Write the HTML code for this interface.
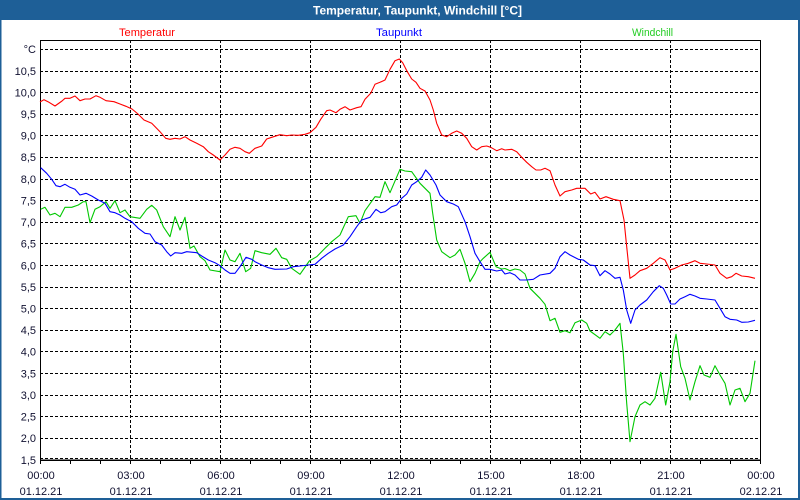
<!DOCTYPE html>
<html>
<head>
<meta charset="utf-8">
<style>
html,body{margin:0;padding:0;background:#fff;}
svg{display:block;}
text{font-family:"Liberation Sans",Arial,sans-serif;}
</style>
</head>
<body>
<svg width="800" height="500" viewBox="0 0 800 500" xmlns="http://www.w3.org/2000/svg">
<rect x="0" y="0" width="800" height="500" fill="#ffffff"/>
<!-- title bar -->
<rect x="0" y="0" width="800" height="20" fill="#1e5f97"/>
<rect x="0" y="0" width="1.5" height="500" fill="#1e5f97"/>
<rect x="798" y="0" width="2" height="500" fill="#1e5f97"/>
<rect x="0" y="498" width="800" height="2" fill="#1e5f97"/>
<text x="313" y="14.5" font-size="12" font-weight="bold" fill="#ffffff" textLength="209" lengthAdjust="spacingAndGlyphs">Temperatur, Taupunkt, Windchill [°C]</text>

<!-- legend -->
<text x="119" y="36" font-size="11" fill="#ff0000" textLength="56" lengthAdjust="spacingAndGlyphs">Temperatur</text>
<text x="376" y="36" font-size="11" fill="#0000ff" textLength="46" lengthAdjust="spacingAndGlyphs">Taupunkt</text>
<text x="632" y="36" font-size="11" fill="#22cc22" textLength="41" lengthAdjust="spacingAndGlyphs">Windchill</text>

<!-- grid -->
<g stroke="#000" stroke-width="1" stroke-dasharray="3 2" shape-rendering="crispEdges" fill="none">
<line x1="40" y1="49.5" x2="760" y2="49.5"/>
<line x1="40" y1="71.5" x2="760" y2="71.5"/>
<line x1="40" y1="92.5" x2="760" y2="92.5"/>
<line x1="40" y1="114.5" x2="760" y2="114.5"/>
<line x1="40" y1="135.5" x2="760" y2="135.5"/>
<line x1="40" y1="157.5" x2="760" y2="157.5"/>
<line x1="40" y1="179.5" x2="760" y2="179.5"/>
<line x1="40" y1="200.5" x2="760" y2="200.5"/>
<line x1="40" y1="222.5" x2="760" y2="222.5"/>
<line x1="40" y1="243.5" x2="760" y2="243.5"/>
<line x1="40" y1="265.5" x2="760" y2="265.5"/>
<line x1="40" y1="287.5" x2="760" y2="287.5"/>
<line x1="40" y1="308.5" x2="760" y2="308.5"/>
<line x1="40" y1="330.5" x2="760" y2="330.5"/>
<line x1="40" y1="351.5" x2="760" y2="351.5"/>
<line x1="40" y1="373.5" x2="760" y2="373.5"/>
<line x1="40" y1="395.5" x2="760" y2="395.5"/>
<line x1="40" y1="416.5" x2="760" y2="416.5"/>
<line x1="40" y1="438.5" x2="760" y2="438.5"/>
<line x1="40" y1="458.5" x2="760" y2="458.5"/>
<line x1="130.5" y1="40" x2="130.5" y2="460"/>
<line x1="220.5" y1="40" x2="220.5" y2="460"/>
<line x1="310.5" y1="40" x2="310.5" y2="460"/>
<line x1="400.5" y1="40" x2="400.5" y2="460"/>
<line x1="490.5" y1="40" x2="490.5" y2="460"/>
<line x1="580.5" y1="40" x2="580.5" y2="460"/>
<line x1="670.5" y1="40" x2="670.5" y2="460"/>
</g>

<!-- frame -->
<g stroke="#000" stroke-width="1" shape-rendering="crispEdges" fill="none">
<rect x="40.5" y="40.5" width="720" height="419.5"/>
<line x1="40" y1="460.5" x2="761" y2="460.5"/>
<line x1="40.5" y1="460" x2="40.5" y2="464"/>
<line x1="70.5" y1="460" x2="70.5" y2="464"/>
<line x1="100.5" y1="460" x2="100.5" y2="464"/>
<line x1="130.5" y1="460" x2="130.5" y2="464"/>
<line x1="160.5" y1="460" x2="160.5" y2="464"/>
<line x1="190.5" y1="460" x2="190.5" y2="464"/>
<line x1="220.5" y1="460" x2="220.5" y2="464"/>
<line x1="250.5" y1="460" x2="250.5" y2="464"/>
<line x1="280.5" y1="460" x2="280.5" y2="464"/>
<line x1="310.5" y1="460" x2="310.5" y2="464"/>
<line x1="340.5" y1="460" x2="340.5" y2="464"/>
<line x1="370.5" y1="460" x2="370.5" y2="464"/>
<line x1="400.5" y1="460" x2="400.5" y2="464"/>
<line x1="430.5" y1="460" x2="430.5" y2="464"/>
<line x1="460.5" y1="460" x2="460.5" y2="464"/>
<line x1="490.5" y1="460" x2="490.5" y2="464"/>
<line x1="520.5" y1="460" x2="520.5" y2="464"/>
<line x1="550.5" y1="460" x2="550.5" y2="464"/>
<line x1="580.5" y1="460" x2="580.5" y2="464"/>
<line x1="610.5" y1="460" x2="610.5" y2="464"/>
<line x1="640.5" y1="460" x2="640.5" y2="464"/>
<line x1="670.5" y1="460" x2="670.5" y2="464"/>
<line x1="700.5" y1="460" x2="700.5" y2="464"/>
<line x1="730.5" y1="460" x2="730.5" y2="464"/>
<line x1="760.5" y1="460" x2="760.5" y2="464"/>
</g>

<!-- y labels -->
<g font-size="11" fill="#101030" text-anchor="end">
<text x="36" y="53">°C</text>
<text x="36" y="75">10,5</text>
<text x="36" y="96.5">10,0</text>
<text x="36" y="118">9,5</text>
<text x="36" y="139.5">9,0</text>
<text x="36" y="161">8,5</text>
<text x="36" y="183">8,0</text>
<text x="36" y="204.5">7,5</text>
<text x="36" y="226">7,0</text>
<text x="36" y="247.5">6,5</text>
<text x="36" y="269.5">6,0</text>
<text x="36" y="291">5,5</text>
<text x="36" y="312.5">5,0</text>
<text x="36" y="334">4,5</text>
<text x="36" y="355.5">4,0</text>
<text x="36" y="377.5">3,5</text>
<text x="36" y="399">3,0</text>
<text x="36" y="420.5">2,5</text>
<text x="36" y="442">2,0</text>
<text x="36" y="464">1,5</text>
</g>

<!-- x labels -->
<g font-size="11" fill="#101030" text-anchor="middle">
<text x="41" y="479">00:00</text><text x="41" y="495">01.12.21</text>
<text x="131" y="479">03:00</text><text x="131" y="495">01.12.21</text>
<text x="221" y="479">06:00</text><text x="221" y="495">01.12.21</text>
<text x="311" y="479">09:00</text><text x="311" y="495">01.12.21</text>
<text x="401" y="479">12:00</text><text x="401" y="495">01.12.21</text>
<text x="491" y="479">15:00</text><text x="491" y="495">01.12.21</text>
<text x="581" y="479">18:00</text><text x="581" y="495">01.12.21</text>
<text x="671" y="479">21:00</text><text x="671" y="495">01.12.21</text>
<text x="761" y="479">00:00</text><text x="761" y="495">02.12.21</text>
</g>

<!-- series -->
<g fill="none" stroke-width="1.1" stroke-linejoin="round">
<polyline stroke="#00c800" points="40.7,209.3 45,207.3 50,215 55,213.3 60,216.7 65,207.3 71.7,207.3 78.3,205 83.3,201.7 86,201.7 90,222.7 95,209.3 100,206.7 106,201.7 110,208.3 115,200.7 120,212.7 125,210 130,216.7 140,218.3 146.7,209.3 151.7,205.3 156.7,210 163.3,226.7 170,236.7 175,216.7 180,230 185,217.3 190,248.3 194,246 200,256.7 205,260.7 210,270 220,271.7 225,250 230,260 235,261.7 240,253.3 245.7,271.7 250.7,268.3 255,250.7 261.7,252.7 270,254.3 276,248.3 281.7,257.7 286.7,259.3 291.7,268.3 300,274.3 309.3,261 316.7,256.7 325,248.3 331.7,241.7 340,235 348.3,216.7 356,215.7 360,223.3 365,210.7 375,196.7 380,197.3 385,181.7 390,192.7 400,169.3 405,171 411.7,171.7 420,183.3 430,193.3 432.7,213.3 436.7,240 441.7,251.7 450,257.7 455,255 460,249.3 465,263.3 470,281.7 475,273.3 480,261.7 483.3,258.3 490,252.3 496,266.7 501.7,269 505,268.5 510,270.7 515,269 520,270 525,274 530,288.3 535,293.3 540,298.3 545,304.3 550,320.7 555,318.3 560,332.3 565,330.7 570,332.7 575,322.7 581.7,320 586.7,323.3 590,331 600,338.3 605,331.7 610,335 615,330 620,323.3 623.3,353.3 626.7,403.3 630,441.7 635,416.7 640,405 645,401.7 650,405 655,398.3 660.7,372.3 665.7,405 670,381.7 672.7,351.7 676,334.3 680.7,366.7 685,378.3 690,400 695,381.7 700,365.7 704,375 710,377.3 715,365.7 720,375 725,383.3 730,405 735,390 740,388.3 745,401.7 750,393.3 755,360.7"/>
<polyline stroke="#0000ff" points="40.7,167.7 46.7,173.3 51.7,179.3 56,185.7 60,186.7 65,184.3 70,187.3 75,189.3 80,195 86,193.3 91.7,196 98.3,200 105,203.3 110,211.7 115,212.7 120,215 125,218.3 131.7,221.7 138.3,228.3 145,233.3 150,234 155,241.7 161.7,245 166.7,251.7 170.7,256 175,252.7 181.7,253.3 186.7,251.7 196.7,252.7 201.7,256 208.3,260 215,262.7 220,265.7 225,270 230,273.3 235,273.3 240,266.7 246,257.3 251.7,259.3 255,261.7 261.7,265 268.3,267.7 275,269.3 286.7,269 293.3,266.7 300,266 308.3,265 315,264.3 321.7,258.3 328.3,253.3 335,249 343.3,245 350,236.7 356.7,226.7 361.7,220 370,217.3 376,209.3 380.7,212.7 385,211.7 391.7,206.7 396.7,205 401.7,198.3 406.7,194 411.7,185 416.7,181.7 421.7,177.3 425.7,170 430,175 436,185 440,195 446.7,201.7 453.3,204 458.3,206.7 465,221.7 470,236.7 475,253.3 480,261.7 485,269.3 490,269.3 496.7,271 501.7,270 505,274 510,272.7 515,275 520,280 526.7,280 533.3,279.3 540,275 550,273.3 555,268.3 560,256.7 565,251.7 570,255 578.3,259.3 583.3,260 590,265 595,265.7 600,275.7 605,270.7 610,274 615,278.3 620,277.3 623.3,290 626.7,310 630.7,323.3 635,310 640,305 646.7,300 653.3,291.7 659.3,285.7 663.3,288.3 666.7,295 670.7,304 675,304 680,299 685,296.7 690,294.3 695,296 700,298.3 706.7,299 715,300 720,308.3 725,316.7 730,319.3 736.7,320 741.7,322.3 748.3,322 755,320.3"/>
<polyline stroke="#ff0000" points="40,102 44,99.7 48,101.7 55,106 62,101 65,98.3 70,98.3 75,96 80,100.7 85,99 90,99 96,95.7 100,97.3 106,100.7 114,101.7 120,104 126,106.3 132,109 138,114 144,120 151.7,123.3 160,131.7 165.7,138.3 170,139.3 175,138.3 180,139 185,136.7 190,140 196.7,143.3 203.3,146.7 208.3,151.7 213.3,155 220,160 225,155 230,149.3 235,147.3 240,148.3 245,151.7 249.3,153.3 255,148.3 261.7,146 266.7,139 271.7,137.3 280,134.7 286.7,135.7 291.7,135 298.3,135.3 305,134.3 310,132.7 316,127.3 320.7,119.3 326.7,110.7 330,110 336,112.7 340,109.3 345,106.7 350,110 356.7,107.7 361,106.7 365,99.3 370.7,93.3 375,84.3 380,82.3 385,80 390,69.3 395,60.7 399.3,59 402.7,62.7 407.3,71.7 411.7,79 416,82.3 420,88.3 425,91 430,100 433.3,110 436.7,123.3 441.7,135 446.7,136.7 451.7,133.3 456.7,131 461.7,133.3 466.7,138.3 471.7,146.7 476.7,150 481.7,146.7 486.7,146 490.7,147.3 496.7,150.7 501.7,148.7 505,150 511.7,149.3 516.7,151.7 521.7,157.3 526.7,162.3 531.7,166.7 536,170 540.7,170 545,168.3 550,170.7 555,185 560,196 565,191.7 571.7,190 576.7,188.3 585,188.3 590.7,194 595,192.3 600,199 606,196.7 613.3,199.3 620,200.7 624,220 626.7,246.7 630,278.3 635,275 640,270.7 646.7,268.3 653.3,263.3 660,257.7 665,260 670,270 675,268.3 681.7,265 688.3,263.3 695,260.7 700,263.3 706.7,264 715,265 720,273.3 726.7,278.3 731.7,276.7 736,273.3 741.7,276 748.3,276.7 755,278.3"/>
</g>
</svg>
</body>
</html>
